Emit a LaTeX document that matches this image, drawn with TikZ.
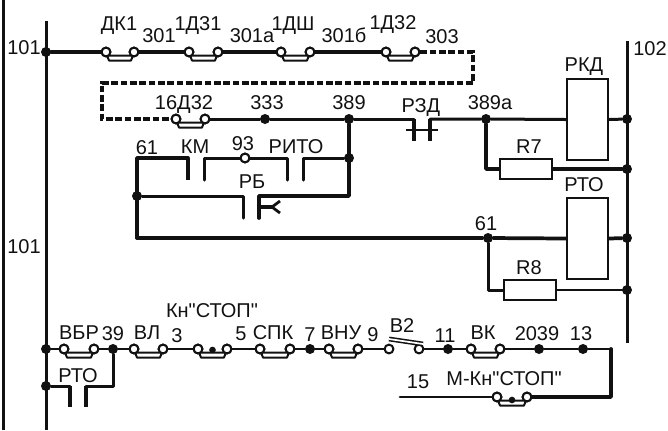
\documentclass[tikz,border=0pt]{standalone}
\usepackage{fontspec}
\newfontfamily\lblfont{Liberation Sans}
\definecolor{ink}{HTML}{111111}
\tikzset{
  wire/.style={draw=ink,line width=2.25pt,line cap=round,line join=round},
  fatwire/.style={draw=ink,line width=2.8pt,line cap=round,line join=round},
  thinwire/.style={draw=ink,line width=2.1pt,line cap=round,line join=round},
  dash wire/.style={draw=ink,line width=2.5pt,dash pattern=on 5pt off 2pt,line join=miter},
  plate/.style={draw=ink,line width=2.4pt},
  boxel/.style={draw=ink,line width=1.7pt,fill=white,inner sep=0pt,rectangle},
  lbl/.style={font=\lblfont\fontsize{15}{15}\selectfont,text=ink,anchor=base,inner sep=0pt},
  term/.style={circle,draw=ink,line width=1.5pt,fill=white,minimum size=6.6pt,inner sep=0pt},
  jun/.style={circle,fill=ink,minimum size=7.5pt,inner sep=0pt},
  smalljun/.style={circle,fill=ink,minimum size=5pt,inner sep=0pt}
}
% \brg{name}{x1}{x2}{y}: normally-open bridge with two terminals
\newcommand{\brg}[4]{%
  \node[term] (#1a) at (#2,#4) {};
  \node[term] (#1b) at (#3,#4) {};
  \draw[draw=ink,line width=1.5pt,fill=white,line join=round]
    ([shift={(1,3.5)}]#1a.center) -- ([shift={(3,8.5)}]#1a.center) -- ([shift={(-3,8.5)}]#1b.center) -- ([shift={(-1,3.5)}]#1b.center) -- cycle;
  \node[term] at (#1a) {};
  \node[term] at (#1b) {};
}
\begin{document}
\begin{tikzpicture}[x=0.75pt,y=-0.75pt]
\useasboundingbox (0,0) rectangle (668,430);
% Rails
\coordinate (Lt) at (3.5,0); \coordinate (Lb) at (3.5,430);
\draw[draw=ink,line width=2.8pt] (Lt) -- (Lb);
\coordinate (B1t) at (46,21); \coordinate (B1b) at (46,430);
\draw[draw=ink,line width=2.25pt] (B1t) -- (B1b);
\coordinate (B2t) at (627,41); \coordinate (B2b) at (627,343);
\draw[draw=ink,line width=2.25pt] (B2t) -- (B2b);

% Row 1
\node[jun] (j101) at (46,52) {};
\brg{dk}{106}{134}{52}
\brg{da}{189}{218}{52}
\brg{dsh}{281}{310}{52}
\brg{db}{386}{415}{52}
\brg{sd}{176}{205}{119}
\draw[fatwire] (j101) -- (dka);
\draw[fatwire] (dkb) -- (daa);
\draw[fatwire] (dab) -- (dsha);
\draw[fatwire] (dshb) -- (dba);
\coordinate (d1) at (473,52); \coordinate (d2) at (473,83); \coordinate (d3) at (102,83); \coordinate (d4) at (102,119);
\draw[dash wire] (dbb) -- (d1) -- (d2) -- (d3) -- (d4) -- (sda);

% Row 2
\node[jun] (j333) at (265,119) {};
\node[jun] (j389) at (349,119) {};
\node[jun] (j389a) at (486,119) {};
\node[jun] (jr1) at (627,119) {};
\node[jun] (jr2) at (627,169) {};
\node[boxel,minimum width=30.75pt,minimum height=60.75pt] (rkd) at (587.5,119.5) {};
\node[boxel,minimum width=39pt,minimum height=15pt] (r7) at (526,169) {};
\coordinate (pa) at (414,119); \coordinate (pb) at (430,119);
\draw[wire] (sdb) -- (j333) -- (j389) -- (pa);
\draw[wire] (pb) -- (j389a) -- (rkd.west);
\draw[wire] (rkd.east) -- (jr1);
\draw[fatwire] (j389a) |- (r7.west);
\draw[fatwire] (r7.east) -- (jr2);
% RZD contact
\coordinate (pa1) at (414,141); \coordinate (pb1) at (430,141);
\coordinate (s1) at (406,130); \coordinate (s2) at (438,130);
\draw[plate] (pa) -- (pa1);
\draw[plate] (pb) -- (pb1);
\draw[draw=ink,line width=2.1pt] (s1) -- (s2);

% Contact block
\node[jun] (j158) at (349,158) {};
\node[jun] (j196) at (137,196) {};
\node[term] (t93) at (245,158) {};
\coordinate (k0) at (137,158); \coordinate (k1) at (188,158); \coordinate (k2) at (188,180);
\coordinate (k3) at (204,180); \coordinate (k4) at (204,158);
\coordinate (r1) at (287,158); \coordinate (r2) at (287,180);
\coordinate (r3) at (303,180); \coordinate (r4) at (303,158);
\coordinate (c1) at (349,196); \coordinate (c2) at (259,196); \coordinate (c3) at (259,218);
\coordinate (c4) at (243,218); \coordinate (c5) at (243,196);
\coordinate (h0) at (259,207); \coordinate (h1) at (272,207); \coordinate (h2) at (280,201); \coordinate (h3) at (280,213);
\coordinate (m0) at (137,238);
\draw[fatwire] (j389) -- (c1) -- (c2) -- (c3);
\draw[wire] (c4) -- (c5) -- (j196);
\draw[fatwire] (k1) -- (k0) -- (m0);
\draw[draw=ink,line width=3.4pt] (k1) -- (k2);
\draw[wire] (k3) -- (k4) -- (t93);
\draw[wire] (t93) -- (r1) -- (r2);
\draw[wire] (r3) -- (r4) -- (j158);
\draw[fatwire] (h0) -- (h1);
\draw[draw=ink,line width=2.1pt,line join=round] (h2) -- (h1) -- (h3);
\node[term] at (t93) {};

% Row 3
\node[jun] (j61) at (488,238) {};
\node[jun] (jr3) at (627,238) {};
\node[jun] (jr4) at (627,290) {};
\node[boxel,minimum width=30.75pt,minimum height=60.75pt] (rto) at (587.5,238.5) {};
\node[boxel,minimum width=39pt,minimum height=15pt] (r8) at (530,290) {};
\draw[fatwire] (m0) -- (j61) -- (rto.west);
\draw[fatwire] (rto.east) -- (jr3);
\draw[wire] (j61) |- (r8.west);
\draw[thinwire] (r8.east) -- (jr4);

% Bottom row
\node[jun] (j349) at (46,349) {};
\node[jun] (j386) at (46,386) {};
\brg{vbr}{64}{94}{349}
\node[jun] (j39) at (113,349) {};
\brg{vl}{134}{163}{349}
\brg{kn}{198}{227}{349}
\node[smalljun] (knd) at (212.5,350) {};
\brg{spk}{260}{290}{349}
\node[jun] (j7) at (310,349) {};
\brg{vnu}{329}{358}{349}
\node[term] (b2a) at (389,349) {};
\node[term] (b2b) at (419,349) {};
\node[jun] (j11) at (448,349) {};
\brg{vk}{471}{500}{349}
\node[jun] (j2039) at (539,349) {};
\node[jun] (j13) at (583,349) {};
\coordinate (e1) at (611,349); \coordinate (e2) at (611,397); \coordinate (e3) at (400,397);
\brg{mk}{497}{527}{397}
\node[smalljun] (mkd) at (512,400) {};
\draw[thinwire] (j349) -- (vbra);
\draw[thinwire] (vbrb) -- (j39) -- (vla);
\draw[thinwire] (vlb) -- (kna);
\draw[thinwire] (knb) -- (spka);
\draw[thinwire] (spkb) -- (j7) -- (vnua);
\draw[thinwire] (vnub) -- (b2a);
\draw[thinwire] (b2b) -- (j11) -- (vka);
\draw[thinwire] (vkb) -- (j2039) -- (j13) -- (e1);
\draw[fatwire] (e1) -- (e2) -- (mkb);
\draw[thinwire] (mka) -- (e3);
% V2 arm
\coordinate (v1) at (389,339); \coordinate (v2) at (423,344);
\draw[draw=ink,line width=3.6pt] (v1) -- (v2);
\draw[draw=white,line width=1.3pt] (v1) -- (v2);
% RTO lower contact
\coordinate (u1) at (70,386); \coordinate (u2) at (70,407); \coordinate (u3) at (86,407);
\coordinate (u4) at (86,386); \coordinate (u5) at (113,386);
\draw[wire] (j386) -- (u1);
\draw[draw=ink,line width=2.8pt] (u1) -- (u2);
\draw[draw=ink,line width=2.8pt] (u3) -- (u4);
\draw[wire] (u4) -- (u5) -- (j39);

% Labels (anchor base = cap centre + 7 px)
\newcommand{\lab}[4]{\node[lbl] (#1) at (#2,#3+7) {#4};}
\lab{l101a}{24}{47}{101}
\lab{l101b}{24}{246}{101}
\lab{l102}{650}{48}{102}
\lab{ldk}{119}{23}{ДК1}
\lab{l301}{159}{35}{301}
\lab{lda}{198}{23}{1Д31}
\lab{l301a}{252}{35}{301а}
\lab{ldsh}{293}{23}{1ДШ}
\lab{l301b}{344}{35}{301б}
\lab{ldb}{393}{22}{1Д32}
\lab{l303}{442}{36}{303}
\lab{lrkd}{584}{64}{РКД}
\lab{lsd}{184}{102}{16Д32}
\lab{l333}{267}{102}{333}
\lab{l389}{349}{102}{389}
\lab{lrzd}{421}{105}{РЗД}
\lab{l389a}{490}{102}{389а}
\lab{lr7}{529}{146}{R7}
\lab{lrto}{584}{184}{РТО}
\lab{l61a}{147}{147}{61}
\lab{lkm}{195}{146}{КМ}
\lab{l93}{243}{143}{93}
\lab{lrito}{296}{146}{РИТО}
\lab{lrb}{252}{181}{РБ}
\lab{l61b}{486}{223}{61}
\lab{lr8}{529}{267}{R8}
\lab{lkn}{212}{310}{Кн"СТОП"}
\lab{lvbr}{79}{332}{ВБР}
\lab{l39}{113}{333}{39}
\lab{lvl}{147}{332}{ВЛ}
\lab{l3}{177}{335}{3}
\lab{l5}{241}{333}{5}
\lab{lspk}{273}{332}{СПК}
\lab{l7}{310}{334}{7}
\lab{lvnu}{341}{332}{ВНУ}
\lab{l9}{373}{334}{9}
\lab{lv2}{402}{325}{В2}
\lab{l11}{445}{335}{11}
\lab{lvk}{483}{332}{ВК}
\lab{l2039}{537}{333}{2039}
\lab{l13}{581}{333}{13}
\lab{l15}{418}{381}{15}
\lab{lmk}{504}{378}{М-Кн"СТОП"}
\lab{lrto2}{78}{375}{РТО}
\end{tikzpicture}
\end{document}
